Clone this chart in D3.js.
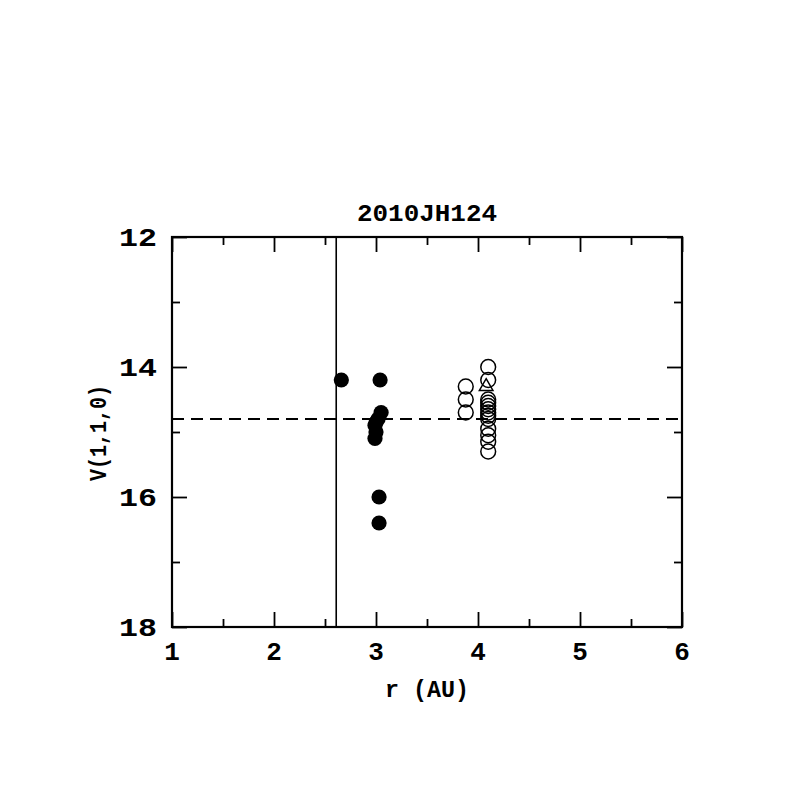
<!DOCTYPE html>
<html><head><meta charset="utf-8">
<script src="https://cdn.jsdelivr.net/npm/d3@7"></script>
<style>body{margin:0;background:#fff}</style>
</head><body>
<svg id="c" width="797" height="797"></svg>
<script>
const title = "2010JH124";
const xLabel = "r (AU)";
const yLabel = "V(1,1,0)";
const xTicks = [1,2,3,4,5,6];
const xMinor = [1.5,2.5,3.5,4.5,5.5];
const yTicks = [12,14,16,18];
const yMinor = [13,15,17];
const filledR = [2.66,3.04,3.05,3.02,3.0,2.99,3.0,2.99,3.03,3.03];
const filledV = [14.2,14.2,14.7,14.8,14.85,14.9,15.0,15.1,16.0,16.4];
const openR = [3.88,3.88,3.88,4.1,4.1,4.1,4.1,4.1,4.1,4.1,4.1,4.1,4.1,4.1,4.1,4.1];
const openV = [14.3,14.5,14.7,14.0,14.2,14.5,14.55,14.6,14.65,14.7,14.75,14.8,14.95,15.05,15.15,15.3];
const triR = [4.08];
const triV = [14.3];
const vLineR = 2.61;
const hLineV = 14.8;

const svg = d3.select("#c");
const x = d3.scaleLinear().domain([1,6]).range([172,682]);
const y = d3.scaleLinear().domain([12,18]).range([237,627]);
const font = "'Liberation Mono', 'DejaVu Sans Mono', monospace";

// ref lines
svg.append("line").attr("x1",x(vLineR)).attr("x2",x(vLineR)).attr("y1",y(12)).attr("y2",y(18))
  .attr("stroke","#000").attr("stroke-width",1.6);
svg.append("line").attr("x1",x(1)).attr("x2",x(6)).attr("y1",y(hLineV)).attr("y2",y(hLineV))
  .attr("stroke","#000").attr("stroke-width",2).attr("stroke-dasharray","12,7");

// points
svg.selectAll(".f").data(filledR).join("circle").attr("cx",d=>x(d)).attr("cy",(d,i)=>y(filledV[i]))
  .attr("r",7.6).attr("fill","#000");
svg.selectAll(".o").data(openR).join("circle").attr("cx",d=>x(d)).attr("cy",(d,i)=>y(openV[i]))
  .attr("r",7.4).attr("fill","none").attr("stroke","#000").attr("stroke-width",1.5);
svg.selectAll(".t").data(triR).join("path")
  .attr("d",d3.symbol().type(d3.symbolTriangle).size(80))
  .attr("transform",(d,i)=>`translate(${x(d)},${y(triV[i])})`)
  .attr("fill","none").attr("stroke","#000").attr("stroke-width",1.5);

// axes (ticks inward on all sides)
const g = svg.append("g");
g.append("g").attr("transform",`translate(0,${y(18)})`).call(d3.axisTop(x).tickValues(xTicks).tickSize(15).tickFormat(""));
g.append("g").attr("transform",`translate(0,${y(18)})`).call(d3.axisTop(x).tickValues(xMinor).tickSize(8).tickFormat(""));
g.append("g").attr("transform",`translate(0,${y(12)})`).call(d3.axisBottom(x).tickValues(xTicks).tickSize(15).tickFormat(""));
g.append("g").attr("transform",`translate(0,${y(12)})`).call(d3.axisBottom(x).tickValues(xMinor).tickSize(8).tickFormat(""));
g.append("g").attr("transform",`translate(${x(1)},0)`).call(d3.axisRight(y).tickValues(yTicks).tickSize(15).tickFormat(""));
g.append("g").attr("transform",`translate(${x(1)},0)`).call(d3.axisRight(y).tickValues(yMinor).tickSize(8).tickFormat(""));
g.append("g").attr("transform",`translate(${x(6)},0)`).call(d3.axisLeft(y).tickValues(yTicks).tickSize(15).tickFormat(""));
g.append("g").attr("transform",`translate(${x(6)},0)`).call(d3.axisLeft(y).tickValues(yMinor).tickSize(8).tickFormat(""));
g.selectAll(".domain").remove();
g.selectAll(".tick line").attr("stroke","#000").attr("stroke-width",1.8);
svg.append("rect").attr("x",x(1)).attr("y",y(12)).attr("width",x(6)-x(1)).attr("height",y(18)-y(12))
  .attr("fill","none").attr("stroke","#000").attr("stroke-width",2.2);

// tick labels
svg.selectAll(".xl").data(xTicks).join("text").attr("x",d=>x(d)).attr("y",660)
  .attr("text-anchor","middle").attr("font-family",font).attr("font-weight","bold").attr("font-size",26).text(d=>d);
svg.selectAll(".yl").data(yTicks).join("text").attr("x",119).attr("y",d=>y(d)+9)
  .attr("textLength",38).attr("lengthAdjust","spacingAndGlyphs")
  .attr("font-family",font).attr("font-weight","bold").attr("font-size",26).text(d=>d);

svg.append("text").attr("x",385).attr("y",697).attr("textLength",84).attr("lengthAdjust","spacingAndGlyphs")
  .attr("font-family",font).attr("font-weight","bold").attr("font-size",24).text(xLabel);
svg.append("text").attr("transform","translate(106,481) rotate(-90)").attr("textLength",96).attr("lengthAdjust","spacingAndGlyphs")
  .attr("font-family",font).attr("font-weight","bold").attr("font-size",24).text(yLabel);
svg.append("text").attr("x",357).attr("y",221).attr("textLength",140).attr("lengthAdjust","spacingAndGlyphs")
  .attr("font-family",font).attr("font-weight","bold").attr("font-size",23).text(title);
</script>
</body></html>
